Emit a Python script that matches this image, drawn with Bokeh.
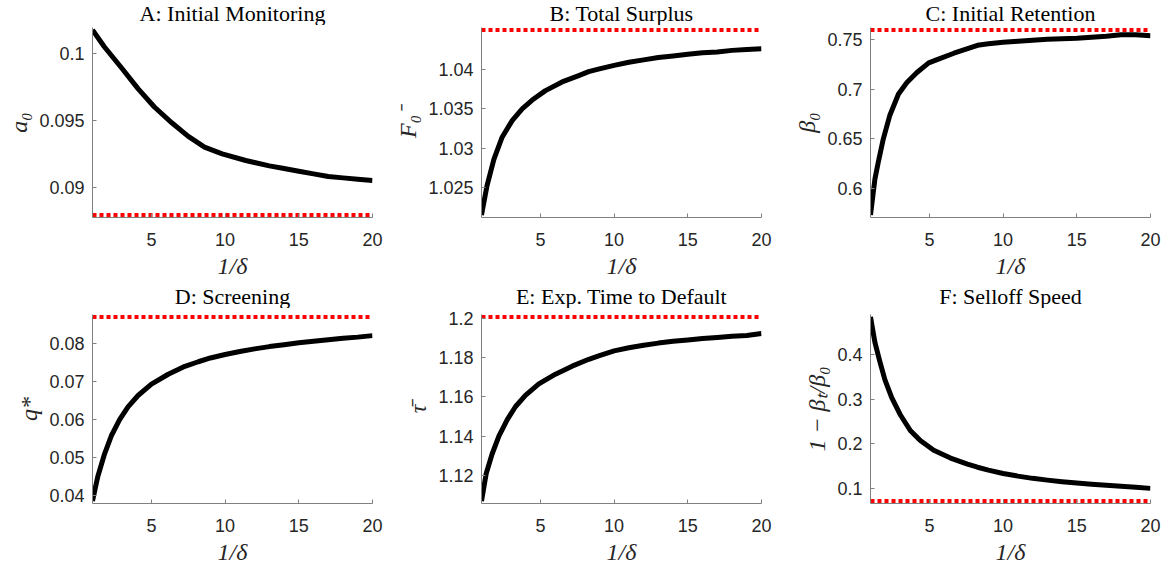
from bokeh.plotting import figure
from bokeh.layouts import gridplot
from bokeh.models import Range1d, FixedTicker
from bokeh.core.properties import value
from bokeh.embed import file_html
from bokeh.resources import INLINE

# ---- data ----
a_x = [1, 1.8, 2.95, 4.1, 5.2, 6.4, 7.5, 8.6, 9.8, 11.4, 13, 14, 15, 16, 17, 18, 19, 20]
a_y = [0.10176, 0.1005, 0.09895, 0.09735, 0.0960, 0.0948, 0.0938, 0.0930, 0.0925, 0.0920,
       0.0916, 0.0914, 0.0912, 0.0910, 0.0908, 0.0907, 0.0906, 0.0905]
a_ref = 0.08792

b_x = [1, 1.38, 1.84, 2.4, 3.08, 3.76, 4.44, 5.34, 6.47, 7.6, 8.27, 9, 10, 11, 12, 13, 14,
       15, 16, 17, 18, 19, 20]
b_y = [1.02153, 1.0253, 1.0286, 1.0314, 1.0335, 1.0350, 1.0361, 1.0373, 1.0384, 1.0392,
       1.0397, 1.04005, 1.0405, 1.0409, 1.0412, 1.0415, 1.0417, 1.0419, 1.0421, 1.0422,
       1.0424, 1.0425, 1.0426]
b_ref = 1.04499

c_x = [1, 1.3, 1.52, 1.87, 2.32, 2.9, 3.47, 4.15, 4.95, 5.52, 6.66, 8.26, 9, 10, 11, 12, 13,
       14, 15, 16, 17, 18, 19, 20]
c_y = [0.5734, 0.6097, 0.626, 0.650, 0.674, 0.695, 0.7065, 0.7166, 0.7263, 0.7296, 0.736,
       0.744, 0.7455, 0.747, 0.748, 0.749, 0.750, 0.7505, 0.751, 0.752, 0.753, 0.7545,
       0.7545, 0.7535]
c_ref = 0.7594

d_x = [1, 1.36, 1.82, 2.27, 2.84, 3.41, 4.09, 5, 6.14, 7.27, 8.18, 9, 10, 11, 12, 13, 14,
       15, 16, 17, 18, 19, 20]
d_y = [0.03843, 0.0449, 0.0509, 0.0556, 0.0599, 0.0633, 0.0663, 0.0693, 0.0719, 0.0740,
       0.0752, 0.0762, 0.0771, 0.0779, 0.0786, 0.0792, 0.0797, 0.0802, 0.0806, 0.0810,
       0.0814, 0.0817, 0.0821]
d_ref = 0.08703

e_x = [1, 1.32, 1.72, 2.18, 2.74, 3.3, 3.98, 4.89, 6.02, 7.15, 8.28, 9, 10, 11, 12, 13, 14,
       15, 16, 17, 18, 19, 20]
e_y = [1.1067, 1.1208, 1.1308, 1.1400, 1.1483, 1.1550, 1.1608, 1.1667, 1.1717, 1.1758,
       1.1793, 1.1812, 1.1836, 1.1852, 1.1865, 1.1876, 1.1885, 1.1892, 1.1899, 1.1905,
       1.1911, 1.1915, 1.1925]
e_ref = 1.2010

f_x = [1, 1.3, 1.64, 1.98, 2.44, 3.0, 3.7, 4.38, 5.29, 6.43, 7.58, 8.26, 9, 10, 11, 12, 13,
       14, 15, 16, 17, 18, 19, 20]
f_y = [0.485, 0.428, 0.384, 0.3435, 0.3037, 0.2665, 0.2299, 0.2073, 0.1856, 0.1680, 0.1545,
       0.1475, 0.1410, 0.1335, 0.1275, 0.1225, 0.1185, 0.1150, 0.1120, 0.1095, 0.1070,
       0.1050, 0.1025, 0.1000]
f_ref = 0.0715

titles = ["A: Initial Monitoring", "B: Total Surplus", "C: Initial Retention",
          "D: Screening", "E: Exp. Time to Default", "F: Selloff Speed"]
ylabels = ["a\u2080", "F\u2080\u207b", "\u03b2\u2080", "q*", "\u03c4\u0304",
           "1 \u2212 \u03b2\u209c/\u03b2\u2080"]
xlabel = "1/\u03b4"
x_ticks = [5, 10, 15, 20]
y_ticks = [[0.09, 0.095, 0.1], [1.025, 1.03, 1.035, 1.04], [0.6, 0.65, 0.7, 0.75],
           [0.04, 0.05, 0.06, 0.07, 0.08], [1.12, 1.14, 1.16, 1.18, 1.2], [0.1, 0.2, 0.3, 0.4]]
y_tick_labels = [["0.09", "0.095", "0.1"], ["1.025", "1.03", "1.035", "1.04"],
                 ["0.6", "0.65", "0.7", "0.75"], ["0.04", "0.05", "0.06", "0.07", "0.08"],
                 ["1.12", "1.14", "1.16", "1.18", "1.2"], ["0.1", "0.2", "0.3", "0.4"]]

xs = [a_x, b_x, c_x, d_x, e_x, f_x]
ys = [a_y, b_y, c_y, d_y, e_y, f_y]
refs = [a_ref, b_ref, c_ref, d_ref, e_ref, f_ref]

# ---- layout constants ----
FIG_W = 389
LEFT = 92
FRAME_W = 280
RIGHT = FIG_W - LEFT - FRAME_W
STRIP_H = [25, 26]          # title strip heights
PANEL_TOP = [2, 6]          # border above each panel frame
PANEL_BOTTOM = [65, 66]     # border below each panel frame
TITLE_Y = [12.0, 12.5]      # title anchor (strip units, from its bottom)
FRAME_H = [190, 189]
EDGE_PAD_PX = 2.5
AX_COL = "#808080"
TXT_COL = "#262626"


def title_strip(text, row):
    h = STRIP_H[row]
    t = figure(width=FIG_W, height=h, x_range=Range1d(1, 20), y_range=Range1d(0, h),
               min_border=0, min_border_left=LEFT, min_border_right=RIGHT,
               x_axis_type=None, y_axis_type=None,
               output_backend="svg", toolbar_location=None)
    t.outline_line_color = None
    t.grid.visible = False
    t.text(x=[10.5], y=[TITLE_Y[row]], text=[text],
           text_align="center", text_baseline="alphabetic",
           text_font=value("Liberation Serif"), text_font_size="22px", text_color="black")
    return t


def panel(i):
    row = i // 3
    frame_h = FRAME_H[row]
    lo = min(min(ys[i]), refs[i])
    hi = max(max(ys[i]), refs[i])
    per_px = (hi - lo) / frame_h
    y0, y1 = lo - EDGE_PAD_PX * per_px, hi + EDGE_PAD_PX * per_px
    p = figure(frame_width=FRAME_W, frame_height=frame_h,
               min_border_left=LEFT, min_border_right=RIGHT, min_border_top=PANEL_TOP[row],
               min_border_bottom=PANEL_BOTTOM[row],
               x_range=Range1d(1, 20), y_range=Range1d(y0, y1),
               output_backend="svg", toolbar_location=None)
    p.outline_line_color = None
    p.grid.visible = False

    for ax in (p.xaxis[0], p.yaxis[0]):
        ax.axis_line_color = AX_COL
        ax.axis_line_width = 1
        ax.major_tick_line_color = AX_COL
        ax.major_tick_in = 4
        ax.major_tick_out = 0
        ax.minor_tick_line_color = None
        ax.major_label_text_font = "Liberation Sans"
        ax.major_label_text_font_size = "18px"
        ax.major_label_text_color = TXT_COL
        ax.axis_label_text_font = "Liberation Serif"
        ax.axis_label_text_font_style = "italic"
        ax.axis_label_text_font_size = "24px"
        ax.axis_label_text_color = TXT_COL

    p.xaxis.ticker = FixedTicker(ticks=x_ticks)
    p.xaxis.axis_label = xlabel
    p.xaxis.major_label_standoff = 15
    p.xaxis.axis_label_standoff = 4

    p.yaxis.ticker = FixedTicker(ticks=y_ticks[i])
    p.yaxis.major_label_overrides = {t: l for t, l in zip(y_ticks[i], y_tick_labels[i])}
    p.yaxis.axis_label = ylabels[i]
    p.yaxis.major_label_standoff = 8
    p.yaxis.axis_label_standoff = 4

    p.line(xs[i], ys[i], line_color="black", line_width=5, line_join="round")
    p.line([1, 20], [refs[i], refs[i]], line_color="#ff0000", line_width=4,
           line_dash="4 3", line_cap="butt")
    return p


rows = []
for r in range(2):
    rows.append([title_strip(titles[3 * r + c], r) for c in range(3)])
    rows.append([panel(3 * r + c) for c in range(3)])

grid = gridplot(rows, toolbar_location=None)

open("out.html", "w").write(file_html(grid, INLINE))
